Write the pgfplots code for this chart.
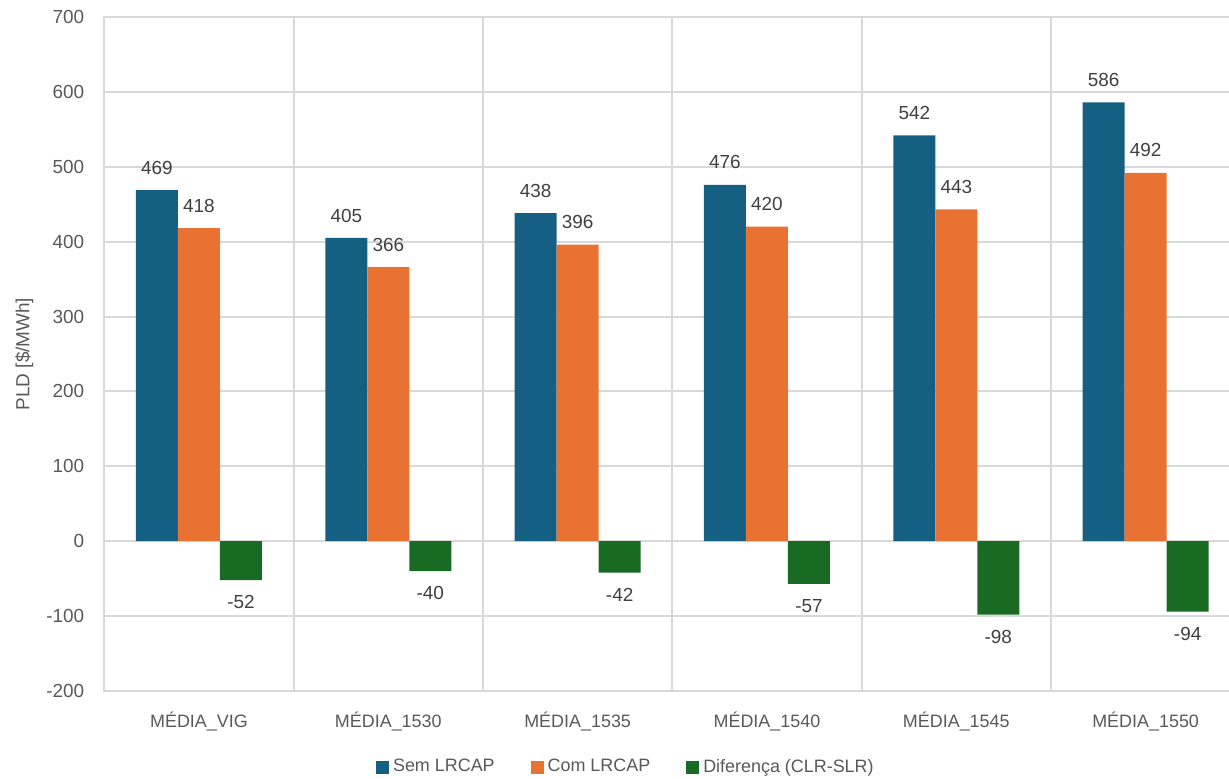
\documentclass[border=0pt]{standalone}
\usepackage{pgfplots}
\pgfplotsset{compat=1.18}
\usepackage{fontspec}
\setmainfont{Liberation Sans}
\definecolor{semc}{HTML}{156082}
\definecolor{comc}{HTML}{E97132}
\definecolor{difc}{HTML}{196B24}
\definecolor{gridc}{HTML}{D9D9D9}
\definecolor{txtc}{HTML}{595959}
\definecolor{lblc}{HTML}{404040}
\begin{document}
\begin{tikzpicture}
\begin{axis}[
  at={(0,0)}, anchor=south west,
  scale only axis, width=568bp, height=337bp,
  xmin=-0.5, xmax=5.5, ymin=-200, ymax=700,
  /pgf/number format/assume math mode=true,
  ytick distance=100,
  xtick={0,...,5},
  xticklabels={MÉDIA\_VIG, MÉDIA\_1530, MÉDIA\_1535, MÉDIA\_1540, MÉDIA\_1545, MÉDIA\_1550},
  minor xtick={0.5,1.5,2.5,3.5,4.5},
  xminorgrids, ymajorgrids,
  grid style={gridc, line width=1bp},
  minor grid style={gridc, line width=1bp},
  axis line style={gridc, line width=1bp},
  major tick length=0pt, minor tick length=0pt,
  tick label style={font=\fontsize{9.5}{11}\selectfont, text=txtc},
  yticklabel style={xshift=-6.5bp},
  xticklabel style={yshift=-7bp, font=\fontsize{9}{11}\selectfont},
  ylabel={PLD [\$/MWh]},
  ylabel style={at={(axis description cs:-0.0704,0.5)}, anchor=center, font=\fontsize{9.5}{11}\selectfont, text=txtc},
  ybar, bar width=21bp,
  nodes near coords,
  every node near coord/.append style={font=\fontsize{9.5}{11}\selectfont, text=lblc, inner ysep=7.6bp},
  legend image code/.code={\fill[#1] (0bp,-3.25bp) rectangle (6.5bp,3.25bp);},
  legend style={draw=none, at={(axis description cs:0.460,-0.1128)}, anchor=center,
    legend columns=3, font=\fontsize{9}{11}\selectfont, text=txtc,
    /tikz/every even column/.append style={column sep=16bp}},
]
\addplot[fill=semc, draw=none, bar shift=-21bp] coordinates {(0,469) (1,405) (2,438) (3,476) (4,542) (5,586)};
\addlegendentry{Sem LRCAP}
\addplot[fill=comc, draw=none, bar shift=0bp] coordinates {(0,418) (1,366) (2,396) (3,420) (4,443) (5,492)};
\addlegendentry{Com LRCAP}
\addplot[fill=difc, draw=none, bar shift=21bp] coordinates {(0,-52) (1,-40) (2,-42) (3,-57) (4,-98) (5,-94)};
\addlegendentry{Diferença (CLR-SLR)}
\end{axis}
\pgfresetboundingbox
\path[use as bounding box] (-52.15bp,-44bp) rectangle (562.35bp,345.5bp);
\end{tikzpicture}
\end{document}
